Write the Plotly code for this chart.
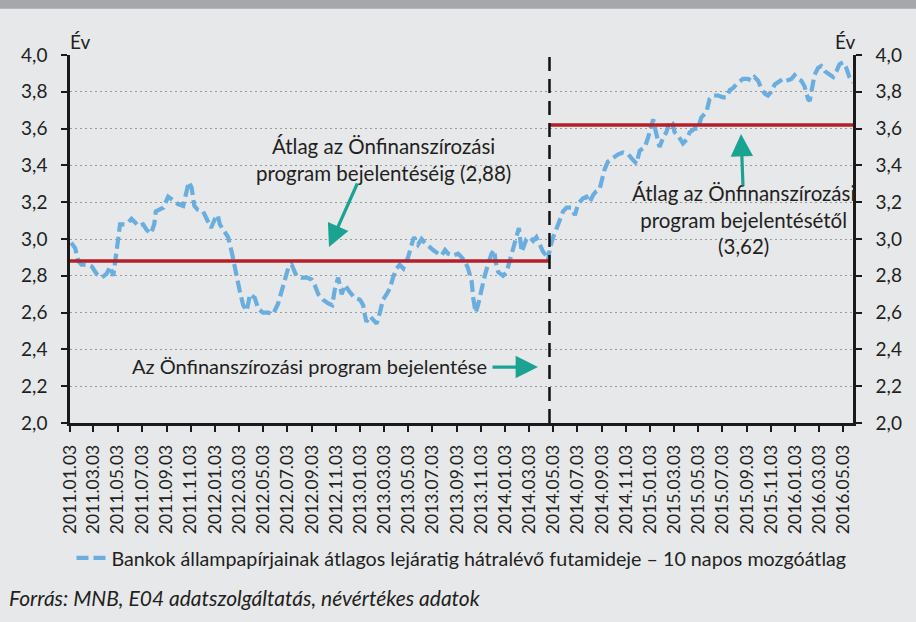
import pandas as pd
import plotly.graph_objects as go

# ---- data -------------------------------------------------------------
start_date = "2011-01-03"
# days elapsed since start_date
day_offsets = [
    3, 13, 21, 29, 42, 55, 67, 80, 92, 101, 109, 115, 120, 126, 138, 147, 155, 164, 172, 184,
    193, 204, 212, 216, 226, 235, 247, 260, 272, 285, 291, 299, 306, 313, 321, 335, 344, 355, 365, 372,
    377, 388, 398, 407, 415, 423, 428, 436, 445, 453, 465, 474, 486, 499, 511, 524, 537, 549, 558, 570,
    583, 596, 608, 616, 625, 637, 650, 660, 667, 675, 684, 692, 705, 717, 730, 738, 742, 746, 755, 763,
    772, 780, 788, 797, 805, 813, 822, 830, 839, 847, 851, 860, 866, 876, 885, 893, 902, 914, 927, 935,
    944, 952, 964, 977, 986, 994, 1002, 1011, 1015, 1021, 1027, 1036, 1044, 1052, 1061, 1068, 1071, 1078, 1090, 1099,
    1107, 1115, 1124, 1130, 1137, 1143, 1149, 1157, 1166, 1174, 1183, 1191, 1199, 1203, 1208, 1216, 1229, 1241, 1250, 1262,
    1271, 1279, 1291, 1300, 1308, 1317, 1325, 1333, 1340, 1346, 1354, 1367, 1380, 1392, 1405, 1417, 1426, 1434, 1447, 1455,
    1461, 1468, 1476, 1484, 1493, 1501, 1510, 1516, 1522, 1531, 1543, 1552, 1560, 1573, 1581, 1589, 1602, 1610, 1619, 1631,
    1644, 1652, 1661, 1669, 1677, 1686, 1694, 1707, 1715, 1723, 1732, 1740, 1749, 1757, 1765, 1774, 1786, 1795, 1803, 1816,
    1824, 1832, 1841, 1849, 1858, 1862, 1868, 1874, 1883, 1891, 1901, 1912, 1921, 1929, 1937, 1946, 1954, 1962, 1971,
]
maturity_years = [
    2.98, 2.95, 2.88, 2.86, 2.86, 2.85, 2.81, 2.79, 2.81, 2.85, 2.80, 2.88, 2.98, 3.08, 3.08, 3.09, 3.11, 3.09, 3.07, 3.08,
    3.05, 3.03, 3.08, 3.15, 3.16, 3.17, 3.23, 3.21, 3.19, 3.18, 3.24, 3.31, 3.28, 3.18, 3.16, 3.15, 3.11, 3.06, 3.11, 3.13,
    3.08, 3.04, 3.01, 2.93, 2.84, 2.77, 2.71, 2.64, 2.61, 2.70, 2.68, 2.62, 2.60, 2.60, 2.59, 2.65, 2.75, 2.84, 2.86, 2.80,
    2.79, 2.79, 2.78, 2.75, 2.70, 2.67, 2.65, 2.64, 2.73, 2.79, 2.70, 2.75, 2.71, 2.68, 2.67, 2.64, 2.59, 2.55, 2.58, 2.56,
    2.54, 2.60, 2.67, 2.70, 2.73, 2.79, 2.84, 2.86, 2.84, 2.88, 2.90, 2.97, 3.01, 2.97, 3.00, 2.98, 2.96, 2.94, 2.92, 2.91,
    2.94, 2.92, 2.91, 2.92, 2.90, 2.88, 2.84, 2.77, 2.68, 2.60, 2.64, 2.73, 2.80, 2.86, 2.92, 2.94, 2.88, 2.82, 2.80, 2.82,
    2.88, 2.94, 3.01, 3.06, 2.93, 2.96, 3.00, 3.01, 2.99, 3.01, 2.97, 2.93, 2.91, 2.88, 2.95, 3.01, 3.08, 3.15, 3.17, 3.17,
    3.13, 3.19, 3.22, 3.23, 3.20, 3.24, 3.26, 3.27, 3.33, 3.38, 3.42, 3.44, 3.46, 3.47, 3.46, 3.43, 3.41, 3.48, 3.50, 3.55,
    3.60, 3.65, 3.57, 3.50, 3.55, 3.58, 3.64, 3.63, 3.58, 3.56, 3.52, 3.54, 3.58, 3.60, 3.60, 3.66, 3.69, 3.76, 3.78, 3.78,
    3.77, 3.77, 3.81, 3.82, 3.84, 3.86, 3.87, 3.87, 3.86, 3.88, 3.86, 3.82, 3.79, 3.78, 3.80, 3.84, 3.86, 3.87, 3.86, 3.87,
    3.89, 3.87, 3.86, 3.83, 3.76, 3.75, 3.82, 3.89, 3.93, 3.94, 3.91, 3.89, 3.88, 3.91, 3.95, 3.96, 3.93, 3.88, 3.85,
]
announce_date = "2014-04-24"
avg_before = 2.88
avg_after = 3.62

series_name = "Bankok állampapírjainak átlagos lejáratig hátralévő futamideje – 10 napos mozgóátlag"
note_before = "Átlag az Önfinanszírozási<br>program bejelentéséig (2,88)"
note_after = "Átlag az Önfinanszírozási<br>program bejelentésétől<br>(3,62)"
note_announce = "Az Önfinanszírozási program bejelentése"
unit_label = "Év"
source_text = "Forrás: MNB, E04 adatszolgáltatás, névértékes adatok"

# ---- build -------------------------------------------------------------
dates = pd.Timestamp(start_date) + pd.to_timedelta(day_offsets, unit="D")
x_start = pd.Timestamp(start_date)
x_end = dates[-1]

FONT = "Lato"
TXT = "#231f20"
BG = "#e7e8ea"
BLUE = "#6aaee0"
RED = "#b2202a"
TEAL = "#1ba391"

fig = go.Figure()
fig.add_trace(go.Scatter(
    x=dates, y=maturity_years, mode="lines", name=series_name,
    line=dict(color=BLUE, width=4.2, dash="12px,5px"),
))
fig.add_trace(go.Scatter(
    x=[x_start, pd.Timestamp(announce_date)], y=[avg_before, avg_before], mode="lines",
    line=dict(color=RED, width=3.5), showlegend=False, hoverinfo="skip",
))
fig.add_trace(go.Scatter(
    x=[pd.Timestamp(announce_date), x_end], y=[avg_after, avg_after], mode="lines",
    line=dict(color=RED, width=3.5), showlegend=False, hoverinfo="skip", yaxis="y2",
))

fig.add_shape(type="line", xref="x", yref="paper", x0=announce_date, x1=announce_date,
              y0=0, y1=1, line=dict(color="#111111", width=2.5, dash="14px,8px"), layer="above")
# top grey band
fig.add_shape(type="rect", xref="paper", yref="paper", x0=-0.2, x1=1.2, y0=1.126, y1=1.25,
              fillcolor="#a6a7aa", line=dict(width=0), layer="above")

axis_common = dict(
    range=[2, 4], dtick=0.2, tickformat=".1f",
    showline=True, linecolor="#1a1a1a", linewidth=2.5,
    ticks="outside", ticklen=6, tickwidth=2, tickcolor="#1a1a1a",
    tickfont=dict(family=FONT, size=19, color=TXT), ticklabelstandoff=10,
    zeroline=False,
)

fig.update_layout(
    width=916, height=622,
    margin=dict(l=70, r=63, t=55, b=199),
    paper_bgcolor=BG, plot_bgcolor=BG,
    separators=", ",
    font=dict(family=FONT, size=19, color=TXT),
    xaxis=dict(
        type="date", range=[x_start, x_end],
        tick0=start_date, dtick="M2", tickformat="%Y.%m.%d", tickangle=-90,
        showline=True, linecolor="#1a1a1a", linewidth=2.5,
        ticks="outside", ticklen=6, tickwidth=2, tickcolor="#1a1a1a",
        tickfont=dict(family=FONT, size=17.5, color=TXT), ticklabelstandoff=6,
        showgrid=False, zeroline=False,
    ),
    yaxis=dict(**axis_common, showgrid=True, gridcolor="#9b9b9b", gridwidth=1.2, griddash="2px,3px"),
    yaxis2=dict(**axis_common, overlaying="y", side="right", showgrid=False),
    showlegend=True,
    legend=dict(orientation="h", x=0.5, xanchor="center", y=-0.367, yanchor="middle",
                bgcolor="rgba(0,0,0,0)", font=dict(family=FONT, size=19.7, color=TXT)),
)

ann = []
ann.append(dict(text=unit_label, xref="paper", yref="paper", x=0.013, y=1.0, yanchor="bottom",
                xanchor="center", showarrow=False, font=dict(size=19)))
ann.append(dict(text=unit_label, xref="paper", yref="paper", x=0.99, y=1.0, yanchor="bottom",
                xanchor="center", showarrow=False, font=dict(size=19)))
ann.append(dict(text=note_before, xref="paper", yref="paper", x=0.401, y=0.717,
                xanchor="center", yanchor="middle", showarrow=False, font=dict(size=20.5)))
ann.append(dict(text=note_after, xref="paper", yref="paper", x=0.86, y=0.552,
                xanchor="center", yanchor="middle", showarrow=False, font=dict(size=20.5)))
ann.append(dict(text=note_announce, xref="paper", yref="paper", x=0.3065, y=0.155,
                xanchor="center", yanchor="middle", showarrow=False, font=dict(size=20)))
# arrows
for tip_x, tip_y, ax, ay in [(0.3308, 0.4783, 29, -65), (0.857, 0.7853, 2, 53), (0.5977, 0.152, -47, 0)]:
    ann.append(dict(text="", xref="paper", yref="paper", x=tip_x, y=tip_y, ax=ax, ay=ay,
                    showarrow=True, arrowhead=2, arrowsize=1.4, arrowwidth=3.2, arrowcolor=TEAL,
                    standoff=0))
ann.append(dict(text=source_text, xref="paper", yref="paper", x=-0.08, y=-0.4755,
                xanchor="left", yanchor="middle", showarrow=False,
                font=dict(size=21, color=TXT, style="italic")))
fig.update_layout(annotations=ann)

fig.write_html("out.html", config={"displayModeBar": False},
               post_script="document.body.style.margin='0px';")
